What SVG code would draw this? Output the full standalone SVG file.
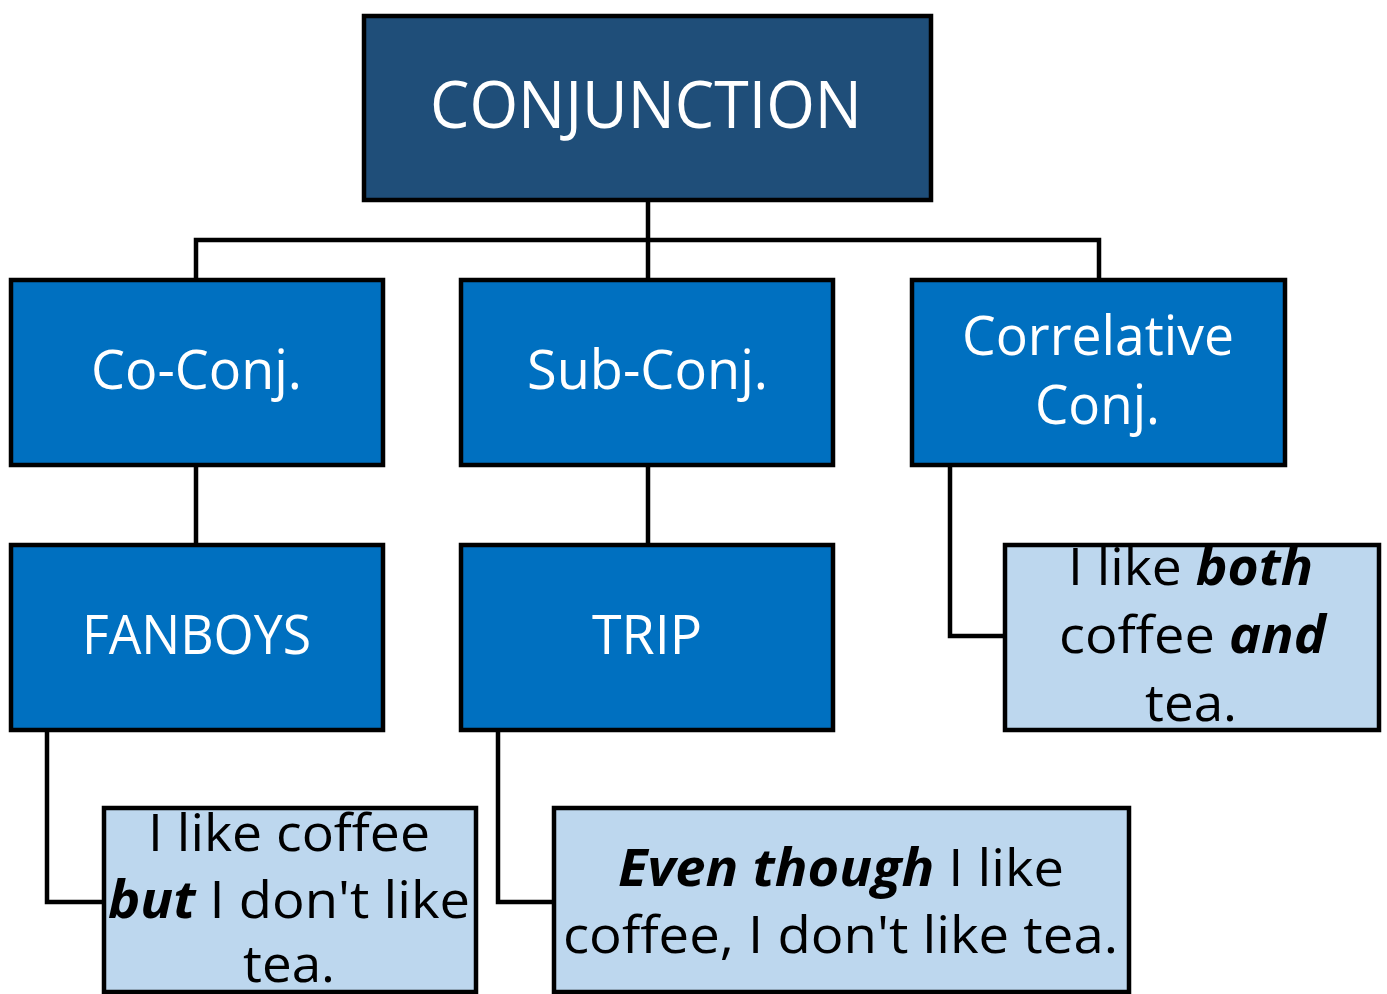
<svg xmlns="http://www.w3.org/2000/svg" width="1387" height="994" viewBox="0 0 1387 994">
<style>
.box{stroke:#000;stroke-width:4.5}
.root{fill:#1F4E79}
.mid{fill:#0070C0}
.ex{fill:#BDD7EE}
text{font-family:"Open Sans","Liberation Sans",sans-serif;text-anchor:middle}
.w{fill:#fff}
.k{fill:#000}
.bi{font-weight:bold;font-style:italic}
.conn{fill:none;stroke:#000;stroke-width:4.5}
</style>
<rect width="1387" height="994" fill="#fff"/>
<g id="connectors">
<path class="conn" d="M648 202V240M196 280V240H1099V280M648 240V280"/>
<path class="conn" d="M196 467V545M648 467V545"/>
<path class="conn" d="M47 732V902H104"/>
<path class="conn" d="M498 732V902H554"/>
<path class="conn" d="M950 467V636H1005"/>
</g>
<g id="conjunction">
<rect class="box root" x="364" y="16" width="567" height="184"/>
<text class="w" x="646" y="128" font-size="66" textLength="432" lengthAdjust="spacingAndGlyphs">CONJUNCTION</text>
</g>
<g id="co-conj">
<rect class="box mid" x="11" y="280" width="372" height="185"/>
<text class="w" x="196.5" y="389" font-size="54" textLength="211" lengthAdjust="spacingAndGlyphs">Co-Conj.</text>
</g>
<g id="sub-conj">
<rect class="box mid" x="461" y="280" width="372" height="185"/>
<text class="w" x="647.5" y="389" font-size="54" textLength="241" lengthAdjust="spacingAndGlyphs">Sub-Conj.</text>
</g>
<g id="correlative">
<rect class="box mid" x="912" y="280" width="373" height="185"/>
<text class="w" x="1098" y="355" font-size="54" textLength="272" lengthAdjust="spacingAndGlyphs">Correlative</text>
<text class="w" x="1097.5" y="424" font-size="54" textLength="125" lengthAdjust="spacingAndGlyphs">Conj.</text>
</g>
<g id="fanboys">
<rect class="box mid" x="11" y="545" width="372" height="185"/>
<text class="w" x="196.5" y="654" font-size="54" textLength="229" lengthAdjust="spacingAndGlyphs">FANBOYS</text>
</g>
<g id="trip">
<rect class="box mid" x="461" y="545" width="372" height="185"/>
<text class="w" x="647" y="654" font-size="54" textLength="110" lengthAdjust="spacingAndGlyphs">TRIP</text>
</g>
<g id="example-fanboys">
<rect class="box ex" x="104" y="808" width="372" height="184"/>
<text class="k" x="289" y="851" font-size="52" textLength="282" lengthAdjust="spacingAndGlyphs">I like coffee</text>
<text class="k" x="289" y="918" font-size="52" textLength="362" lengthAdjust="spacingAndGlyphs"><tspan class="bi">but</tspan> I don't like</text>
<text class="k" x="289" y="982" font-size="52" textLength="92" lengthAdjust="spacingAndGlyphs">tea.</text>
</g>
<g id="example-trip">
<rect class="box ex" x="554" y="808" width="575" height="184"/>
<text class="k" x="841" y="886" font-size="52" textLength="446" lengthAdjust="spacingAndGlyphs"><tspan class="bi">Even though</tspan> I like</text>
<text class="k" x="840.5" y="953" font-size="52" textLength="555" lengthAdjust="spacingAndGlyphs">coffee, I don't like tea.</text>
</g>
<g id="example-correlative">
<rect class="box ex" x="1005" y="545" width="374" height="185"/>
<text class="k" x="1190.5" y="585" font-size="52" textLength="245" lengthAdjust="spacingAndGlyphs">I like <tspan class="bi">both</tspan></text>
<text class="k" x="1192.5" y="653" font-size="52" textLength="267" lengthAdjust="spacingAndGlyphs">coffee <tspan class="bi">and</tspan></text>
<text class="k" x="1191" y="721" font-size="52" textLength="92" lengthAdjust="spacingAndGlyphs">tea.</text>
</g>
</svg>
